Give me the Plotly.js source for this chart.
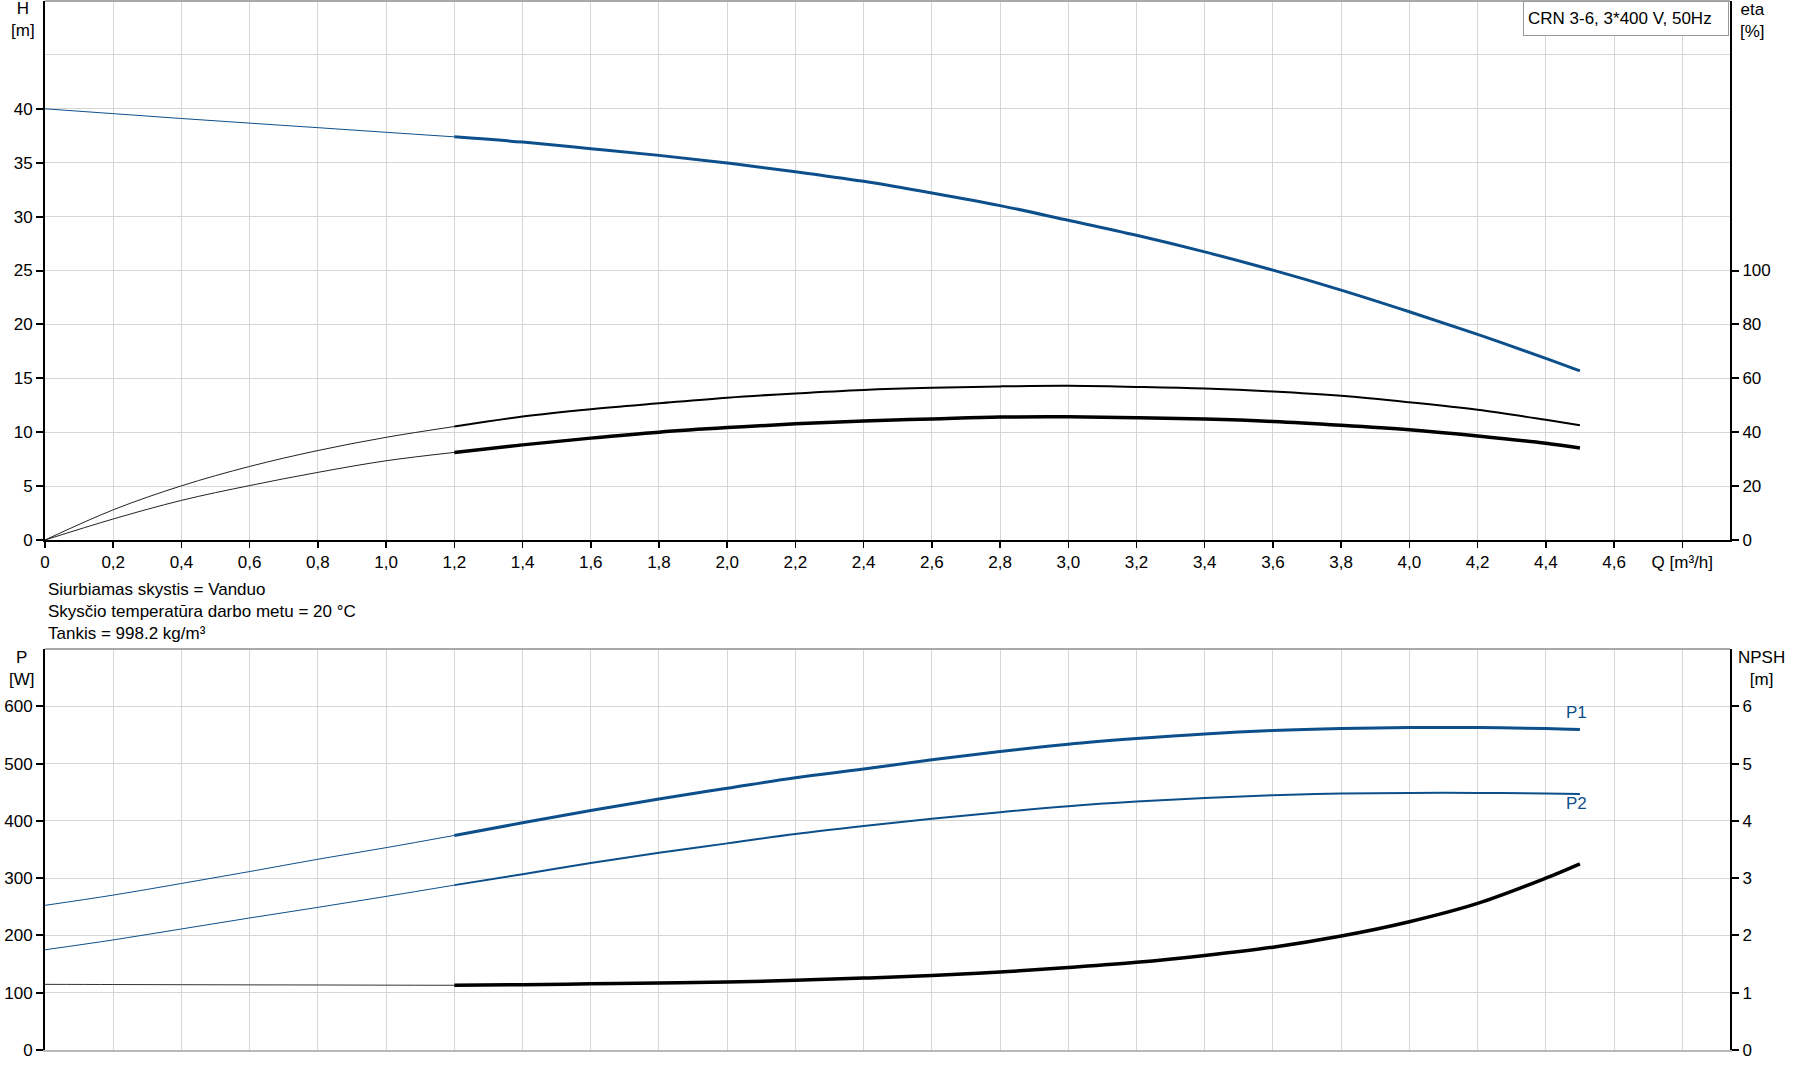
<!DOCTYPE html>
<html>
<head>
<meta charset="utf-8">
<script src="https://cdn.plot.ly/plotly-3.0.1.min.js"></script>
<style>
  html, body { margin: 0; padding: 0; background: #fff; }
  #chart { width: 1795px; height: 1081px; }
</style>
</head>
<body>
<div id="chart"></div>
<script>
// ---------- Data ----------
const Q_LO = [0, 0.2, 0.4, 0.6, 0.8, 1.0, 1.2];
const Q_HI = [1.2, 1.4, 1.6, 1.8, 2.0, 2.2, 2.4, 2.6, 2.8, 3.0, 3.2, 3.4, 3.6, 3.8, 4.0, 4.2, 4.4, 4.5];

const H_LO = [40.0, 39.55, 39.1, 38.67, 38.25, 37.82, 37.4];
const H_HI = [37.4, 36.91, 36.30, 35.68, 34.97, 34.17, 33.27, 32.19, 31.02, 29.66, 28.27, 26.73, 25.03, 23.18, 21.17, 19.07, 16.85, 15.68];

const ETA_A_LO = [0, 11.2, 20.1, 27.3, 33.2, 38.1, 42.1];
const ETA_A_HI = [42.1, 45.8, 48.5, 50.7, 52.8, 54.4, 55.7, 56.5, 57.0, 57.2, 56.8, 56.2, 55.1, 53.5, 51.1, 48.3, 44.6, 42.6];

const ETA_B_LO = [0, 7.8, 14.7, 20.2, 25.1, 29.4, 32.5];
const ETA_B_HI = [32.5, 35.3, 37.8, 40.0, 41.7, 43.1, 44.2, 44.9, 45.6, 45.7, 45.4, 44.9, 44.0, 42.6, 40.9, 38.6, 35.9, 34.1];

const P1_LO = [252.5, 270.4, 290.7, 311.5, 333.0, 353.2, 374.6];
const P1_HI = [374.6, 396.6, 418.1, 438.3, 456.9, 475.4, 490.4, 506.7, 521.1, 533.9, 543.7, 551.8, 557.6, 561.1, 562.8, 562.8, 561.1, 559.4];

const P2_LO = [174.9, 192.2, 211.3, 230.5, 249.0, 268.1, 287.8];
const P2_HI = [287.8, 306.9, 326.6, 344.5, 360.7, 377.0, 390.9, 403.6, 415.2, 425.6, 433.7, 440.1, 444.7, 447.6, 448.8, 448.8, 447.6, 447.0];

const NPSH_LO = [1.146, 1.143, 1.14, 1.137, 1.135, 1.132, 1.13];
const NPSH_HI = [1.13, 1.14, 1.155, 1.17, 1.187, 1.216, 1.255, 1.3, 1.36, 1.44, 1.53, 1.65, 1.795, 1.99, 2.24, 2.56, 3.0, 3.25];

// Tick values / labels
const Q_TICKS = [0, 0.2, 0.4, 0.6, 0.8, 1.0, 1.2, 1.4, 1.6, 1.8, 2.0, 2.2, 2.4, 2.6, 2.8, 3.0, 3.2, 3.4, 3.6, 3.8, 4.0, 4.2, 4.4, 4.6, 4.8];
const Q_TICKTEXT = ["0", "0,2", "0,4", "0,6", "0,8", "1,0", "1,2", "1,4", "1,6", "1,8", "2,0", "2,2", "2,4", "2,6", "2,8", "3,0", "3,2", "3,4", "3,6", "3,8", "4,0", "4,2", "4,4", "4,6", "Q [m³/h]"];
const H_TICKS = [0, 5, 10, 15, 20, 25, 30, 35, 40];
const ETA_TICKS = [0, 20, 40, 60, 80, 100];
const P_TICKS = [0, 100, 200, 300, 400, 500, 600];
const NPSH_TICKS = [0, 1, 2, 3, 4, 5, 6];

const PUMP_LABEL = "CRN 3-6, 3*400 V, 50Hz";
const NOTE_LINES = ["Siurbiamas skystis = Vanduo", "Skysčio temperatūra darbo metu = 20 °C", "Tankis = 998.2 kg/m³"];

// ---------- Styling ----------
const BLUE = '#0d4f8b';
const GRID = '#d6d6d6';
const FONT = 'Liberation Sans, Arial, sans-serif';
const FS = 17;

function line(x, y, xa, ya, color, width) {
  return { x: x, y: y, xaxis: xa, yaxis: ya, type: 'scatter', mode: 'lines',
           line: { color: color, width: width, shape: 'spline', smoothing: 1.0 },
           hoverinfo: 'skip', showlegend: false };
}

const traces = [
  // Top chart: H (left) and eta (right)
  line(Q_LO, H_LO, 'x', 'y', BLUE, 1),
  line(Q_HI, H_HI, 'x', 'y', BLUE, 3),
  line(Q_LO, ETA_A_LO, 'x', 'y2', '#222', 1),
  line(Q_HI, ETA_A_HI, 'x', 'y2', '#000', 2),
  line(Q_LO, ETA_B_LO, 'x', 'y2', '#222', 1),
  line(Q_HI, ETA_B_HI, 'x', 'y2', '#000', 3.5),
  // Bottom chart: P (left) and NPSH (right)
  line(Q_LO, P1_LO, 'x2', 'y3', BLUE, 1),
  line(Q_HI, P1_HI, 'x2', 'y3', BLUE, 3),
  line(Q_LO, P2_LO, 'x2', 'y3', BLUE, 1),
  line(Q_HI, P2_HI, 'x2', 'y3', BLUE, 2),
  line(Q_LO, NPSH_LO, 'x2', 'y4', '#333', 1),
  line(Q_HI, NPSH_HI, 'x2', 'y4', '#000', 3.5)
];

const W = 1795, Hh = 1081;
const ML = 45, MR = 65, MT = 1, MB = 31;
const PW = W - ML - MR;          // 1685
const PH = Hh - MT - MB;         // 1049
const px2fx = px => (px - ML) / PW;
const py2fy = py => (Hh - MB - py) / PH;

const TOP_DOMAIN = [py2fy(540), 1];
const BOT_DOMAIN = [0, py2fy(649)];

const yAxisCommon = {
  showline: true, linecolor: '#000', linewidth: 2,
  ticks: 'outside', ticklen: 7, tickwidth: 2, tickcolor: '#000',
  zeroline: false, automargin: false, fixedrange: true,
  tickfont: { family: FONT, size: FS, color: '#000' }
};

const layout = {
  width: W, height: Hh,
  margin: { l: ML, r: MR, t: MT, b: MB, pad: 0 },
  paper_bgcolor: '#fff', plot_bgcolor: '#fff',
  font: { family: FONT, size: FS, color: '#000' },
  showlegend: false,
  xaxis: {
    domain: [0, 1], anchor: 'y', range: [0, 4.94],
    tickmode: 'array', tickvals: Q_TICKS, ticktext: Q_TICKTEXT,
    showgrid: true, gridcolor: GRID, gridwidth: 1,
    showline: true, linecolor: '#000', linewidth: 2,
    ticks: 'outside', ticklen: 6, tickwidth: 1.5, tickcolor: '#000',
    zeroline: false, automargin: false, fixedrange: true,
    tickfont: { family: FONT, size: FS, color: '#000' }
  },
  yaxis: Object.assign({}, yAxisCommon, {
    domain: TOP_DOMAIN, anchor: 'x', range: [0, 50],
    tickmode: 'array', tickvals: H_TICKS,
    showgrid: true, gridcolor: GRID, gridwidth: 1,
    minor: { tick0: 0, dtick: 5, showgrid: true, gridcolor: GRID, gridwidth: 1, ticks: '' }
  }),
  yaxis2: Object.assign({}, yAxisCommon, {
    overlaying: 'y', side: 'right', anchor: 'x', range: [0, 200],
    tickmode: 'array', tickvals: ETA_TICKS, showgrid: false
  }),
  xaxis2: {
    domain: [0, 1], anchor: 'y3', range: [0, 4.94],
    tickmode: 'array', tickvals: Q_TICKS, showticklabels: false, ticks: '',
    showgrid: true, gridcolor: GRID, gridwidth: 1,
    showline: true, linecolor: '#b8b8b8', linewidth: 2,
    zeroline: false, automargin: false, fixedrange: true
  },
  yaxis3: Object.assign({}, yAxisCommon, {
    domain: BOT_DOMAIN, anchor: 'x2', range: [0, 700],
    tickmode: 'array', tickvals: P_TICKS,
    showgrid: true, gridcolor: GRID, gridwidth: 1
  }),
  yaxis4: Object.assign({}, yAxisCommon, {
    overlaying: 'y3', side: 'right', anchor: 'x2', range: [0, 7],
    tickmode: 'array', tickvals: NPSH_TICKS, showgrid: false
  }),
  shapes: [
    { type: 'line', xref: 'x domain', yref: 'y domain', x0: 0, x1: 1, y0: 1, y1: 1,
      line: { color: '#a8a8a8', width: 2 }, layer: 'above' },
    { type: 'line', xref: 'x2 domain', yref: 'y3 domain', x0: 0, x1: 1, y0: 1, y1: 1,
      line: { color: '#a8a8a8', width: 2 }, layer: 'above' }
  ],
  annotations: [
    { xref: 'paper', yref: 'paper', x: px2fx(23), y: py2fy(19), xanchor: 'center', yanchor: 'middle',
      text: 'H<br>[m]', showarrow: false, font: { family: FONT, size: FS, color: '#000' } },
    { xref: 'paper', yref: 'paper', x: px2fx(1752), y: py2fy(20), xanchor: 'center', yanchor: 'middle',
      text: 'eta<br>[%]', showarrow: false, font: { family: FONT, size: FS, color: '#000' } },
    { xref: 'paper', yref: 'paper', x: px2fx(22), y: py2fy(668), xanchor: 'center', yanchor: 'middle',
      text: 'P<br>[W]', showarrow: false, font: { family: FONT, size: FS, color: '#000' } },
    { xref: 'paper', yref: 'paper', x: px2fx(1761), y: py2fy(668), xanchor: 'center', yanchor: 'middle',
      text: 'NPSH<br>[m]', showarrow: false, font: { family: FONT, size: FS, color: '#000' } },
    { xref: 'paper', yref: 'paper', x: px2fx(46), y: py2fy(611), xanchor: 'left', yanchor: 'middle',
      text: NOTE_LINES.join('<br>'), align: 'left', showarrow: false,
      font: { family: FONT, size: FS, color: '#000' } },
    { xref: 'paper', yref: 'paper', x: px2fx(1729), y: 1, xanchor: 'right', yanchor: 'top',
      text: PUMP_LABEL, align: 'left', showarrow: false, width: 196, height: 25,
      bgcolor: '#fff', bordercolor: '#999', borderwidth: 1, borderpad: 4,
      font: { family: FONT, size: FS, color: '#000' } },
    { xref: 'x2', yref: 'y3', x: 4.49, y: 590, xanchor: 'center', yanchor: 'middle',
      text: 'P1', showarrow: false, font: { family: FONT, size: FS, color: BLUE } },
    { xref: 'x2', yref: 'y3', x: 4.49, y: 430, xanchor: 'center', yanchor: 'middle',
      text: 'P2', showarrow: false, font: { family: FONT, size: FS, color: BLUE } }
  ]
};

Plotly.newPlot('chart', traces, layout, { staticPlot: true, displayModeBar: false });
</script>
</body>
</html>
